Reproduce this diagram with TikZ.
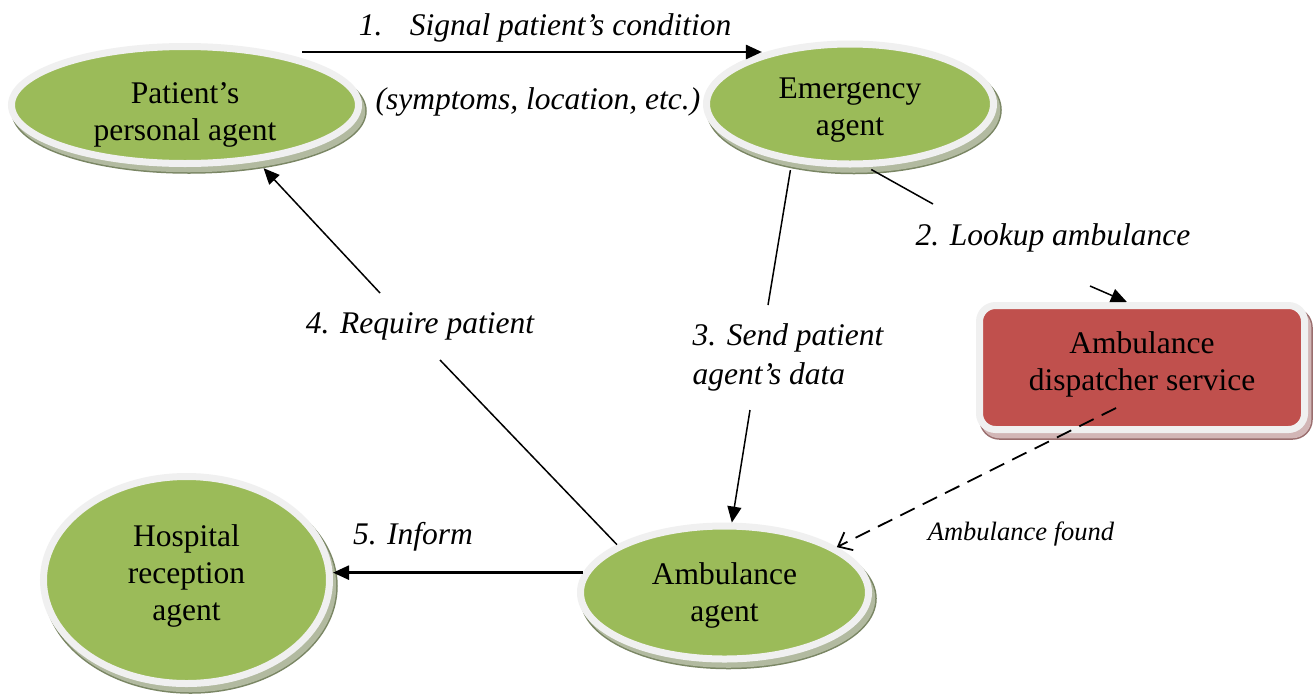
\documentclass[tikz,border=0pt]{standalone}
\usepackage{fontspec}
\setmainfont{Liberation Serif}
\usetikzlibrary{shapes.geometric,shadows,arrows.meta,calc}

\definecolor{agentgreen}{HTML}{9BBB59}
\definecolor{servicered}{HTML}{C0504D}
\definecolor{rimgray}{HTML}{F0F0F0}
\definecolor{shadegreen}{HTML}{B2BAA0}
\definecolor{shadegreenedge}{HTML}{7A8664}
\definecolor{shadered}{HTML}{D2B6B6}
\definecolor{shaderededge}{HTML}{9A6E6E}

\tikzset{
  rimshadow/.style 2 args={
    general shadow={shadow xshift=4pt, shadow yshift=-6pt,
      fill=#2, draw=#1, line width=8.5pt},
    general shadow={shadow xshift=4pt, shadow yshift=-6pt,
      fill=#2, draw=#2, line width=5.5pt}},
  agent/.style={ellipse, draw=rimgray, line width=7pt, fill=agentgreen,
    inner sep=0pt, align=center,
    font=\fontsize{31.5}{37}\selectfont,
    rimshadow={shadegreenedge}{shadegreen}},
  service/.style={rectangle, rounded corners=16pt, draw=rimgray,
    line width=7pt, fill=servicered, inner sep=0pt, align=center,
    font=\fontsize{31.5}{37}\selectfont,
    rimshadow={shaderededge}{shadered}},
  msg/.style={font=\fontsize{31.5}{39}\selectfont\itshape, inner sep=0pt},
  conn/.style={line width=1.5pt},
  boldconn/.style={line width=2.5pt},
  tip/.style={-{Triangle[length=16pt,width=14pt]}},
}

\begin{document}
\begin{tikzpicture}[x=1pt,y=-1pt]
  \fill[white] (0,0) rectangle (1313,694);
  \useasboundingbox (0,0) rectangle (1313,694);

  % agents and the dispatcher service
  % (text height/depth place the lines inside each shape)
  \node[agent, minimum width=347pt, minimum height=117pt,
        text height=75pt, text depth=5pt]
    (pat) at (185,105) {Patient's\\personal agent};
  \node[agent, minimum width=287pt, minimum height=120pt,
        text height=70pt, text depth=8pt]
    (emerg) at (850,104) {Emergency\\agent};
  \node[agent, minimum width=288pt, minimum height=133pt,
        text height=65pt, text depth=8pt]
    (amb) at (724.5,592.5) {Ambulance\\agent};
  \node[agent, minimum width=286pt, minimum height=207pt,
        text height=90pt, text depth=9pt]
    (hosp) at (186.5,580) {Hospital\\reception\\agent};
  \node[service, minimum width=325pt, minimum height=124pt,
        text height=55pt, text depth=9.4pt]
    (disp) at (1142,367.5) {Ambulance\\dispatcher service};

  % 1. signal condition
  \coordinate (s1) at (302,52);
  \draw[boldconn, tip] (s1) -- (s1 -| emerg.150);
  \node[msg] (l1) at (545,28) {1.\hspace{0.87em}Signal patient's condition};
  \node[msg] (l1b) at (538,102) {(symptoms, location, etc.)};

  % 2. lookup ambulance
  \coordinate (c2a) at (933,204);
  \coordinate (c2b) at (1090,286);
  \draw[conn, shorten <=5pt] (emerg.-75) -- (c2a);
  \draw[conn, tip] (c2b) -- (disp.103);
  \node[msg] (l2) at (1053,238) {2. Lookup ambulance};

  % 3. send patient agent's data
  \coordinate (c3a) at (768,305);
  \coordinate (c3b) at (750,410);
  \draw[conn, shorten <=8pt] (emerg.-135) -- (c3a);
  \draw[conn, tip] (c3b) -- (amb.84);
  \node[msg, align=left] (l3) at (788,357) {3. Send patient\\agent's data};

  % 4. require patient
  \coordinate (c4a) at (440,360);
  \coordinate (c4b) at (380,293);
  \draw[conn] (amb.156) -- (c4a);
  \draw[conn, tip, shorten >=9pt] (c4b) -- (pat.-38);
  \node[msg] (l4) at (420,326) {4. Require patient};

  % 5. inform
  \draw[boldconn, tip] (amb.172) -- (amb.172 -| hosp.east);
  \node[msg] (l5) at (413,537) {5. Inform};

  % dispatcher answer
  \coordinate (c6) at (1116,408);
  \draw[line width=1.8pt, dash pattern=on 16pt off 9pt,
        -{Straight Barb[length=12pt,width=20pt]}] (c6) -- (amb.22);
  \node[font=\fontsize{26.5}{30}\selectfont\itshape, inner sep=0pt] (l6)
    at (1021,534) {Ambulance found};
\end{tikzpicture}
\end{document}
